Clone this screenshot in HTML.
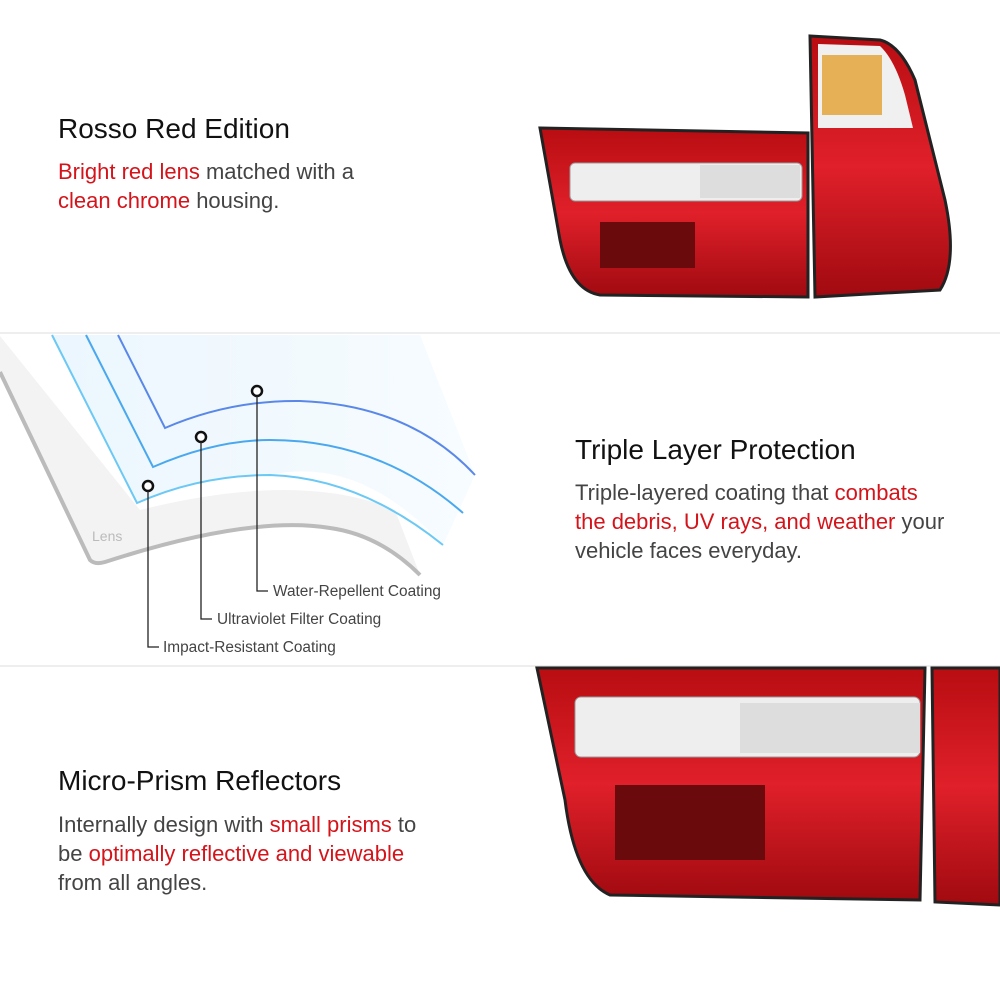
<!DOCTYPE html>
<html><head><style>
body{margin:0;width:1000px;height:1000px;background:#fff;font-family:"Liberation Sans",sans-serif;position:relative;overflow:hidden}
.t{position:absolute;color:#111;font-size:28px;white-space:nowrap}
.p{position:absolute;color:#444;font-size:22px;line-height:29px;white-space:nowrap}
.r{color:#d4141a}
</style></head><body>
<svg width="1000" height="1000" style="position:absolute;left:0;top:0">
<defs>
<linearGradient id="red" x1="0" y1="0" x2="0" y2="1"><stop offset="0" stop-color="#b80d12"/><stop offset=".5" stop-color="#e0202a"/><stop offset="1" stop-color="#a00a10"/></linearGradient>
<linearGradient id="bl" x1="0" y1="0" x2="1" y2="0"><stop offset="0" stop-color="#e6f4fd"/><stop offset="1" stop-color="#f5fbff"/></linearGradient>
</defs>
<line x1="0" y1="333" x2="1000" y2="333" stroke="#ddd"/>
<line x1="0" y1="666" x2="1000" y2="666" stroke="#ddd"/>
<path d="M540,128 L808,133 L808,297 L600,295 Q570,290 560,240 Z" fill="url(#red)" stroke="#222" stroke-width="3"/>
<rect x="570" y="163" width="232" height="38" rx="5" fill="#eee" stroke="#999"/>
<rect x="700" y="165" width="100" height="33" fill="#ddd"/>
<rect x="600" y="222" width="95" height="46" fill="#6a0a0d"/>
<path d="M810,36 L880,40 Q900,45 915,80 L945,200 Q958,262 940,290 L815,297 Z" fill="url(#red)" stroke="#222" stroke-width="3"/>
<path d="M818,44 L880,46 Q895,60 905,95 L913,128 L818,128 Z" fill="#f0f0f0"/>
<rect x="822" y="55" width="60" height="60" fill="#e2a030" opacity=".8"/>
<path d="M537,668 L925,668 L920,900 L610,895 Q575,880 565,800 Z" fill="url(#red)" stroke="#222" stroke-width="3"/>
<rect x="575" y="697" width="345" height="60" rx="6" fill="#eee" stroke="#999"/>
<rect x="740" y="703" width="180" height="50" fill="#ddd"/>
<rect x="615" y="785" width="150" height="75" fill="#6a0a0d"/>
<path d="M932,668 L1000,668 L1000,905 L935,902 Z" fill="url(#red)" stroke="#222" stroke-width="3"/>
<path d="M0,336 L0,372 L90,560 Q95,565 105,562 Q250,515 330,528 Q380,535 420,575 L395,510 Q300,470 140,510 Z" fill="#f3f3f3"/>
<path d="M0,372 L90,560 Q95,565 105,562 Q250,515 330,528 Q380,535 420,575" fill="none" stroke="#bbb" stroke-width="4"/>
<path d="M52,335 L420,335 L475,475 L443,545 Q360,455 270,475 Q200,475 137,503 Z" fill="url(#bl)" opacity=".8"/>
<path d="M52,335 L137,503 Q200,475 270,475 Q360,478 443,545" fill="none" stroke="#6cc8f4" stroke-width="2"/>
<path d="M86,335 L153,467 Q215,440 270,440 Q380,440 463,513" fill="none" stroke="#4aa8ee" stroke-width="2"/>
<path d="M118,335 L165,428 Q230,400 300,401 Q410,405 475,475" fill="none" stroke="#5a88e8" stroke-width="2"/>
<text x="92" y="541" font-size="14" fill="#bbb" font-family="Liberation Sans">Lens</text>
<g fill="#fff" stroke="#111" stroke-width="2.5"><circle cx="257" cy="391" r="5"/><circle cx="201" cy="437" r="5"/><circle cx="148" cy="486" r="5"/></g>
<g fill="none" stroke="#222" stroke-width="1.3">
<path d="M257,396 V591 H268"/><path d="M201,442 V619 H212"/><path d="M148,491 V647 H159"/>
</g>
<g font-size="15.4" fill="#444" font-family="Liberation Sans">
<text x="273" y="596">Water-Repellent Coating</text>
<text x="217" y="624">Ultraviolet Filter Coating</text>
<text x="163" y="652">Impact-Resistant Coating</text>
</g>
</svg>
<div class="t" style="left:58px;top:113px">Rosso Red Edition</div>
<div class="p" style="left:58px;top:157px"><span class="r">Bright red lens</span> matched with a<br><span class="r">clean chrome</span> housing.</div>
<div class="t" style="left:575px;top:434px">Triple Layer Protection</div>
<div class="p" style="left:575px;top:478px">Triple-layered coating that <span class="r">combats<br>the debris, UV rays, and weather</span> your<br>vehicle faces everyday.</div>
<div class="t" style="left:58px;top:765px">Micro-Prism Reflectors</div>
<div class="p" style="left:58px;top:810px">Internally design with <span class="r">small prisms</span> to<br>be <span class="r">optimally reflective and viewable</span><br>from all angles.</div>
</body></html>
